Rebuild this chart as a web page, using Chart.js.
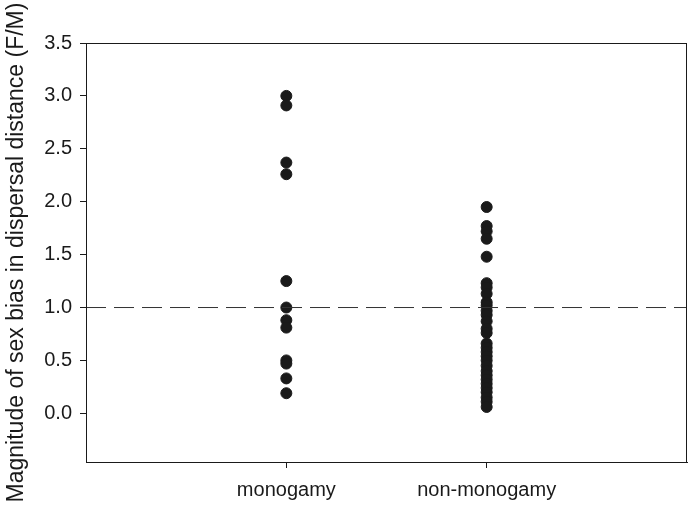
<!DOCTYPE html>
<html lang="en">
<head>
  <meta charset="UTF-8" />
  <title>Sex bias in dispersal distance</title>
  <script src="https://cdn.jsdelivr.net/npm/chart.js"></script>
  <style>
    html, body { margin: 0; padding: 0; background: #fff; }
    .chart-wrapper { width: 694px; height: 512px; }
  </style>
</head>
<body>
<div class="chart-wrapper">
  <canvas id="biasChart"></canvas>
</div>

<script>
  // categories and values
  const categories = ['monogamy', 'non-monogamy'];
  const monogamy = [3.0, 2.91, 2.37, 2.26, 1.25, 1.0, 0.88, 0.81, 0.5, 0.47, 0.33, 0.19];
  const nonMonogamy = [1.95, 1.77, 1.72, 1.65, 1.48, 1.23, 1.19, 1.13, 1.05, 1.02, 0.97, 0.93,
    0.87, 0.8, 0.76, 0.66, 0.62, 0.58, 0.54, 0.5, 0.45, 0.4, 0.36, 0.32, 0.28, 0.24, 0.2,
    0.15, 0.11, 0.06];
  const yTicks = [0, 0.5, 1.0, 1.5, 2.0, 2.5, 3.0, 3.5];
  const refLevel = 1.0;

  const black = '#1a1a1a';
  const fam = 'Liberation Sans, Arial, sans-serif';

  // draws the box round the plot area
  const frame = {
    id: 'frame',
    afterDraw(chart) {
      const a = chart.chartArea, c = chart.ctx;
      c.save();
      c.strokeStyle = black;
      c.lineWidth = 1;
      c.strokeRect(a.left + 0.5, a.top + 0.5, a.right - a.left - 1, a.bottom - a.top);
      c.restore();
    }
  };

  const toPoints = (vals, x) => vals.map(v => ({ x: x, y: v }));

  new Chart(document.getElementById('biasChart'), {
    type: 'scatter',
    data: {
      datasets: [
        {
          data: [{ x: 0, y: refLevel }, { x: 3, y: refLevel }],
          type: 'line',
          borderColor: '#333',
          borderWidth: 1,
          borderDash: [20, 8],
          pointRadius: 0
        },
        {
          data: toPoints(monogamy, 1),
          backgroundColor: black,
          borderColor: black,
          pointRadius: 5.5
        },
        {
          data: toPoints(nonMonogamy, 2),
          backgroundColor: black,
          borderColor: black,
          pointRadius: 5.5
        }
      ]
    },
    options: {
      responsive: true,
      maintainAspectRatio: false,
      animation: false,
      layout: { padding: { top: 43, right: 7, left: 0, bottom: 0 } },
      plugins: { legend: { display: false }, tooltip: { enabled: false } },
      scales: {
        x: {
          type: 'linear',
          min: 0,
          max: 3,
          afterBuildTicks: axis => { axis.ticks = [{ value: 1 }, { value: 2 }]; },
          afterFit: axis => { axis.height = 50; },
          ticks: {
            color: black,
            font: { family: fam, size: 20 },
            padding: 10,
            callback: v => categories[v - 1]
          },
          grid: { drawOnChartArea: false, tickLength: 6, color: black },
          border: { color: black }
        },
        y: {
          min: -0.46,
          max: 3.5,
          afterBuildTicks: axis => { axis.ticks = yTicks.map(v => ({ value: v })); },
          afterFit: axis => { axis.width = 86; },
          ticks: {
            color: black,
            font: { family: fam, size: 20 },
            padding: 8,
            callback: v => v.toFixed(1)
          },
          grid: { drawOnChartArea: false, tickLength: 6, color: black },
          border: { color: black },
          title: {
            display: true,
            text: 'Magnitude of sex bias in dispersal distance (F/M)',
            color: black,
            font: { family: fam, size: 23 },
            padding: { top: 3, bottom: 0 }
          }
        }
      }
    },
    plugins: [frame]
  });
</script>
</body>
</html>
